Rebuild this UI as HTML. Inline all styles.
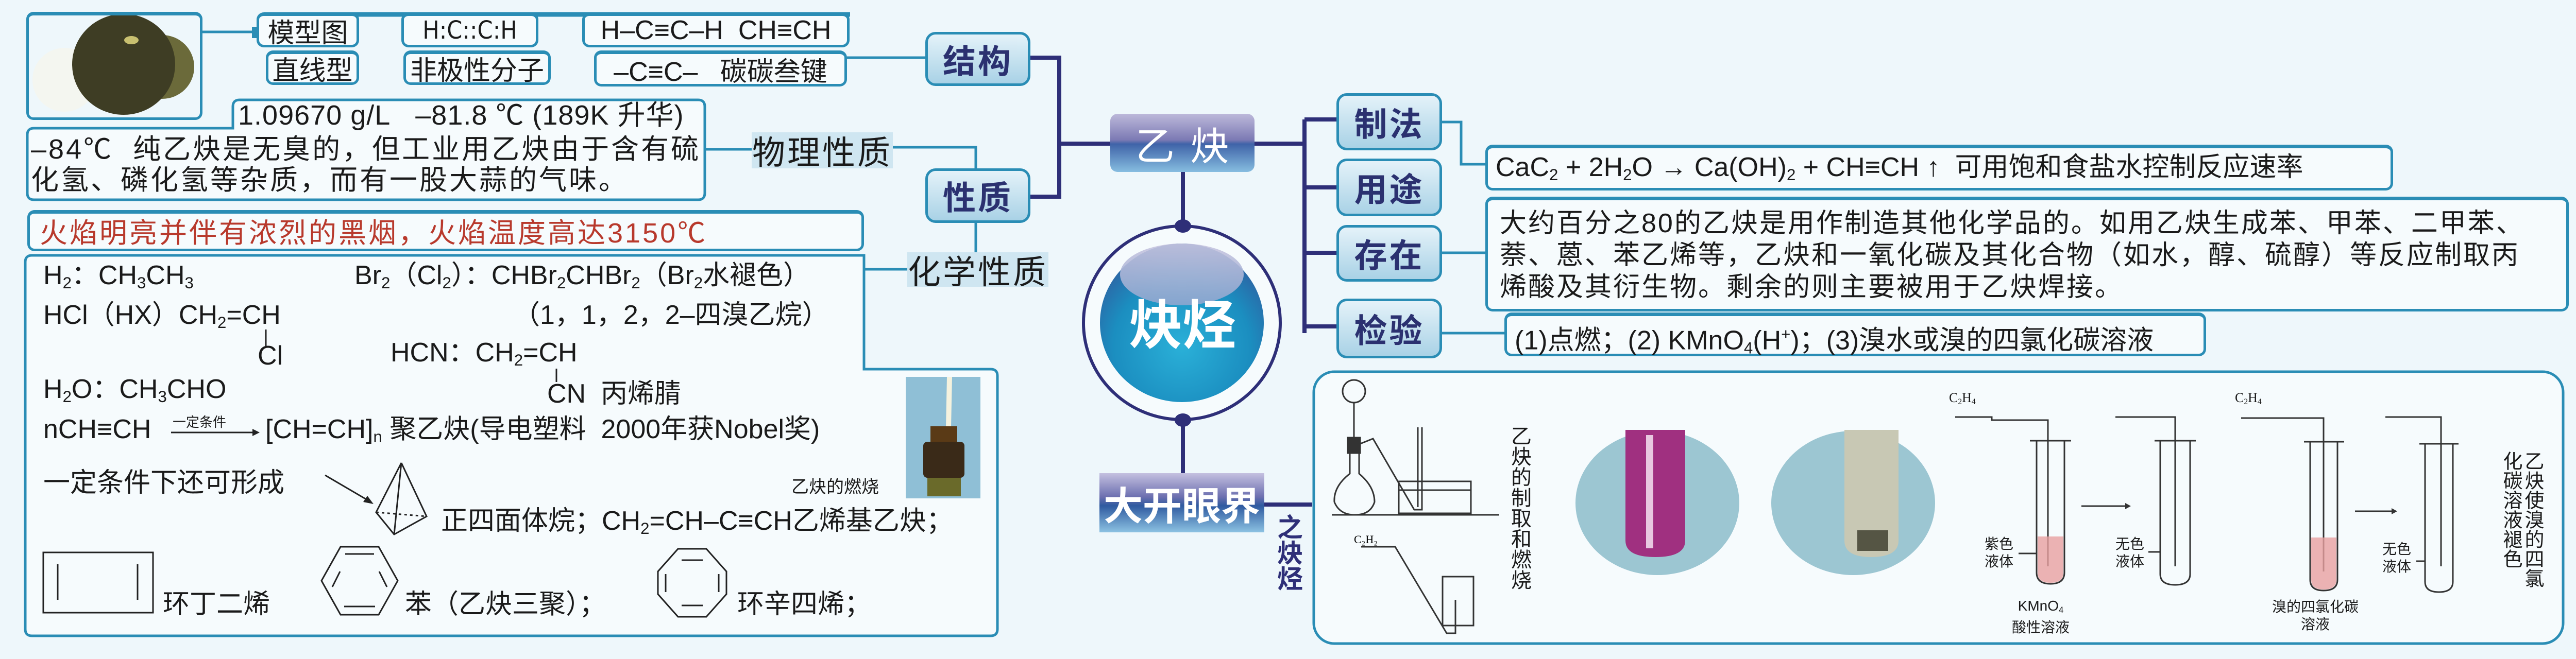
<!DOCTYPE html>
<html><head><meta charset="utf-8">
<style>
*{margin:0;padding:0;box-sizing:border-box}
body{width:5024px;height:1280px;background:#eef7fb;position:relative;overflow:hidden;font-family:"Liberation Sans","Noto Sans CJK SC",sans-serif;color:#1a1a1a}
.a{position:absolute;white-space:nowrap}
.box{position:absolute;border:5px solid #2a8db5;border-top-width:7px;border-radius:14px;background:#f6fbfd}
.cb{display:flex;align-items:center;justify-content:center;font-size:52px}
.lab{position:absolute;border:5px solid #2a8db5;border-radius:20px;background:linear-gradient(#e4f2f9,#a9d2e6);display:flex;align-items:center;justify-content:center;font-size:64px;color:#2b3170;font-weight:600;letter-spacing:4px}
.lb2{position:absolute;background:#cfe6f1;display:flex;align-items:center;justify-content:center;font-size:64px;color:#1a1a1a;letter-spacing:4px}
.t54{font-size:54px;letter-spacing:4px;line-height:60px}
.t50{font-size:52px;line-height:56px}
sub{font-size:60%;vertical-align:-0.25em}
sup{font-size:60%;vertical-align:0.6em}
.v{position:absolute;writing-mode:vertical-rl;font-size:40px;line-height:42px;white-space:nowrap}
</style></head><body>

<svg class="a" style="left:0;top:0" width="5024" height="1280">
<path d="M66,249 H452 V207 Q452,194 465,194 H1355 Q1368,194 1368,207 V375 Q1368,388 1355,388 H66 Q53,388 53,375 V262 Q53,249 66,249 Z" fill="#f6fbfd" stroke="#2a8db5" stroke-width="5"/>
<path d="M62,496 H1677 V717 H1923 Q1936,717 1936,730 V1222 Q1936,1235 1923,1235 H62 Q49,1235 49,1222 V509 Q49,496 62,496 Z" fill="#f6fbfd" stroke="#2a8db5" stroke-width="5"/>
<rect x="2550" y="722" width="2425" height="528" rx="40" fill="#f6fbfd" stroke="#2a8db5" stroke-width="5"/>
<g stroke="#2a8db5" stroke-width="5" fill="none">
<line x1="393" y1="62" x2="498" y2="62"/>
<line x1="512" y1="28" x2="1650" y2="28" stroke-width="9"/>
<line x1="1644" y1="112" x2="1796" y2="112"/>
<line x1="1368" y1="290" x2="1459" y2="290"/>
<polyline points="1733,286 1894,286 1894,327"/>
<line x1="1894" y1="433" x2="1894" y2="490"/>
<line x1="1677" y1="523" x2="1761" y2="523"/>
<polyline points="2799,237 2836,237 2836,319 2883,319"/>
<line x1="2799" y1="491" x2="2883" y2="491"/>
<line x1="2799" y1="647" x2="2920" y2="647"/>
</g>
<rect x="489" y="52" width="16" height="22" fill="#2a8db5"/>
<g stroke="#2e2f78" stroke-width="8" fill="none">
<polyline points="2000,112 2056,112 2056,382 2000,382"/>
<line x1="2056" y1="279" x2="2155" y2="279"/>
<line x1="2435" y1="279" x2="2532" y2="279"/>
<line x1="2532" y1="232" x2="2532" y2="647"/>
<line x1="2532" y1="232" x2="2594" y2="232"/>
<line x1="2532" y1="364" x2="2594" y2="364"/>
<line x1="2532" y1="491" x2="2594" y2="491"/>
<line x1="2532" y1="634" x2="2594" y2="634"/>
<line x1="2296" y1="334" x2="2296" y2="439"/>
<line x1="2296" y1="816" x2="2296" y2="919"/>
<line x1="2454" y1="980" x2="2547" y2="980"/>
</g>
<defs>
<radialGradient id="ball" cx="50%" cy="65%" r="60%"><stop offset="0" stop-color="#2ab0d8"/><stop offset="0.7" stop-color="#1b8ec0"/><stop offset="1" stop-color="#2a6aa8"/></radialGradient>
<linearGradient id="hl" x1="0" y1="0" x2="0" y2="1"><stop offset="0" stop-color="#c9c6e0"/><stop offset="1" stop-color="#8fa6cf"/></linearGradient>
</defs>
<ellipse cx="2294" cy="627" rx="191" ry="188" fill="#f6fbfd" stroke="#2e2f78" stroke-width="6"/>
<ellipse cx="2294" cy="627" rx="159" ry="154" fill="url(#ball)"/>
<ellipse cx="2294" cy="533" rx="120" ry="60" fill="url(#hl)" opacity="0.9"/>
<ellipse cx="2296" cy="439" rx="16" ry="13" fill="#2e2f78"/>
<ellipse cx="2296" cy="816" rx="16" ry="13" fill="#2e2f78"/>
<!-- molecule photo -->
<circle cx="125" cy="155" r="62" fill="#f4f6f0"/>
<circle cx="315" cy="130" r="62" fill="#6b6a3a"/>
<ellipse cx="240" cy="125" rx="100" ry="98" fill="#3e3d24"/>
<ellipse cx="255" cy="78" rx="14" ry="8" fill="#c8c070"/>
<!-- burning photo -->
<rect x="1758" y="732" width="145" height="236" fill="#8fbfd6"/>
<path d="M1838,732 L1848,732 L1846,830 L1836,830 Z" fill="#f5f2de"/>
<rect x="1806" y="828" width="52" height="30" fill="#5a3a16"/>
<rect x="1792" y="858" width="80" height="70" rx="8" fill="#3a2a18"/>
<rect x="1800" y="928" width="65" height="36" fill="#6a6a2a"/>
<g stroke="#222" stroke-width="3" fill="none">
<line x1="631" y1="923" x2="718" y2="974"/>
<polyline points="779,899 730,995 765,1038 828,1003 779,899"/>
<line x1="779" y1="899" x2="765" y2="1038"/>
<line x1="730" y1="995" x2="828" y2="1003" stroke-dasharray="5,6"/>
<rect x="84" y="1073" width="213" height="117"/>
<line x1="112" y1="1096" x2="112" y2="1165"/>
<line x1="267" y1="1096" x2="267" y2="1165"/>
<polygon points="661,1062 735,1062 772,1128 735,1194 661,1194 624,1128"/>
<line x1="670" y1="1076" x2="726" y2="1076"/>
<line x1="660" y1="1110" x2="645" y2="1140"/>
<line x1="736" y1="1110" x2="751" y2="1140"/>
<line x1="668" y1="1178" x2="728" y2="1178"/>
<polygon points="1316,1066 1371,1066 1410,1110 1410,1154 1371,1198 1316,1198 1277,1154 1277,1110"/>
<line x1="1323" y1="1088" x2="1364" y2="1088"/>
<line x1="1323" y1="1176" x2="1364" y2="1176"/>
<line x1="1292" y1="1115" x2="1292" y2="1150"/>
<line x1="1395" y1="1115" x2="1395" y2="1150"/>
<line x1="516" y1="640" x2="516" y2="672"/>
<line x1="1080" y1="716" x2="1080" y2="742"/>
<line x1="332" y1="840" x2="490" y2="840"/>
</g>
<polygon points="490,833 504,840 490,847" fill="#222"/>
<polygon points="725,979 705,975 713,963" fill="#222"/>
<g stroke="#333" stroke-width="3" fill="none">
<circle cx="2628" cy="760" r="22"/>
<line x1="2628" y1="782" x2="2628" y2="850"/>
<rect x="2616" y="850" width="24" height="30" fill="#333"/>
<path d="M2620,880 V920 Q2588,945 2590,975 Q2600,1000 2630,1000 Q2660,1000 2668,975 Q2668,945 2638,920 V880"/>
<polyline points="2640,862 2665,852 2745,990 2760,990 2760,830"/>
<rect x="2715" y="935" width="140" height="62"/>
<line x1="2715" y1="952" x2="2855" y2="952"/>
<line x1="2752" y1="830" x2="2752" y2="985"/>
<line x1="2585" y1="1000" x2="2910" y2="1000"/>
<polyline points="2642,1062 2708,1062 2808,1230 2825,1230 2825,1165"/>
<rect x="2800" y="1120" width="60" height="95"/>
</g>
<text x="2628" y="1055" font-size="22" font-family="Liberation Serif">C₂H₂</text>
<ellipse cx="3217" cy="977" rx="159" ry="140" fill="#9cc6d2"/>
<path d="M3155,835 H3271 V1050 Q3271,1082 3213,1082 Q3155,1082 3155,1050 Z" fill="#a03080"/>
<rect x="3195" y="845" width="14" height="220" fill="#e8c8e0"/>
<ellipse cx="3597" cy="977" rx="159" ry="140" fill="#9cc6d2"/>
<path d="M3580,835 H3685 V1050 Q3685,1082 3632,1082 Q3580,1082 3580,1050 Z" fill="#c8c8b4"/>
<rect x="3605" y="1030" width="60" height="40" fill="#555544"/>
<g stroke="#333" stroke-width="3" fill="none">
<polyline points="3795,810 3866,810 3866,816 3975,816 3975,1100"/>
<path d="M3953,856 V1112 Q3953,1134 3980,1134 Q4007,1134 4007,1112 V856"/>
<line x1="3940" y1="856" x2="4020" y2="856"/>
<polyline points="4106,810 4222,810 4222,1100"/>
<path d="M4193,856 V1115 Q4193,1136 4222,1136 Q4251,1136 4251,1115 V856"/>
<line x1="4182" y1="856" x2="4262" y2="856"/>
<polyline points="4350,812 4470,812 4510,812 4510,1110"/>
<path d="M4484,858 V1126 Q4484,1147 4510,1147 Q4537,1147 4537,1126 V858"/>
<line x1="4472" y1="858" x2="4550" y2="858"/>
<polyline points="4630,810 4738,810 4738,1100"/>
<path d="M4707,862 V1130 Q4707,1150 4734,1150 Q4761,1150 4761,1130 V862"/>
<line x1="4696" y1="862" x2="4772" y2="862"/>
<line x1="4040" y1="983" x2="4125" y2="983"/>
<line x1="4571" y1="993" x2="4642" y2="993"/>
<line x1="3918" y1="1075" x2="3953" y2="1075"/>
<line x1="4170" y1="1072" x2="4193" y2="1072"/>
<line x1="4690" y1="1090" x2="4707" y2="1090"/>
</g>
<path d="M3955,1042 H4005 V1112 Q4005,1132 3980,1132 Q3955,1132 3955,1112 Z" fill="#e8a0a0" opacity="0.8"/>
<path d="M4486,1044 H4535 V1126 Q4535,1145 4510,1145 Q4486,1145 4486,1126 Z" fill="#e8a0a0" opacity="0.8"/>
<polygon points="4125,977 4136,983 4125,989" fill="#333"/>
<polygon points="4642,987 4653,993 4642,999" fill="#333"/>
</svg>

<div class="box" style="left:51px;top:23px;width:342px;height:210px;background:transparent"></div>

<div class="box cb" style="left:498px;top:24px;width:199px;height:68px">模型图</div>
<div class="box cb" style="left:516px;top:98px;width:181px;height:67px">直线型</div>
<div class="box cb" style="left:779px;top:24px;width:266px;height:68px;font-family:'DejaVu Sans Condensed','DejaVu Sans',sans-serif;font-size:48px">H:C::C:H</div>
<div class="box cb" style="left:783px;top:98px;width:286px;height:67px">非极性分子</div>
<div class="box cb" style="left:1130px;top:24px;width:519px;height:68px">H–C≡C–H&nbsp; CH≡CH</div>
<div class="box cb" style="left:1153px;top:98px;width:491px;height:70px">–C≡C–&nbsp;&nbsp; 碳碳叁键</div>

<div class="lab" style="left:1796px;top:62px;width:204px;height:105px">结构</div>
<div class="lab" style="left:1796px;top:327px;width:204px;height:106px">性质</div>
<div class="lb2" style="left:1459px;top:257px;width:274px;height:70px">物理性质</div>
<div class="lb2" style="left:1761px;top:490px;width:274px;height:67px">化学性质</div>

<div class="a t54" style="left:462px;top:194px;letter-spacing:1px">1.09670 g/L&nbsp;&nbsp; –81.8 ℃ (189K 升华)</div>
<div class="a t54" style="left:60px;top:260px">–84℃&nbsp; 纯乙炔是无臭的，但工业用乙炔由于含有硫</div>
<div class="a t54" style="left:60px;top:320px">化氢、磷化氢等杂质，而有一股大蒜的气味。</div>

<div class="box" style="left:53px;top:408px;width:1624px;height:80px"></div>
<div class="a t54" style="left:77px;top:423px;color:#b8392c">火焰明亮并伴有浓烈的黑烟，火焰温度高达3150℃</div>

<div class="a t50" style="left:84px;top:507px">H<sub>2</sub>：CH<sub>3</sub>CH<sub>3</sub></div>
<div class="a t50" style="left:688px;top:507px">Br<sub>2</sub>（Cl<sub>2</sub>）：CHBr<sub>2</sub>CHBr<sub>2</sub>（Br<sub>2</sub>水褪色）</div>
<div class="a t50" style="left:84px;top:584px">HCl（HX）CH<sub>2</sub>=CH</div>
<div class="a t50" style="left:996px;top:584px">（1，1，2，2–四溴乙烷）</div>
<div class="a t50" style="left:500px;top:663px">Cl</div>
<div class="a t50" style="left:758px;top:657px">HCN：CH<sub>2</sub>=CH</div>
<div class="a t50" style="left:1062px;top:737px">CN&nbsp; 丙烯腈</div>
<div class="a t50" style="left:84px;top:728px">H<sub>2</sub>O：CH<sub>3</sub>CHO</div>
<div class="a t50" style="left:84px;top:806px">nCH≡CH</div>
<div class="a" style="left:335px;top:800px;font-size:26px">一定条件</div>
<div class="a t50" style="left:515px;top:806px">[CH=CH]<sub>n</sub> 聚乙炔(导电塑料&nbsp; 2000年获Nobel奖)</div>
<div class="a" style="left:1536px;top:918px;font-size:34px">乙炔的燃烧</div>
<div class="a t50" style="left:84px;top:910px">一定条件下还可形成</div>
<div class="a t50" style="left:856px;top:984px">正四面体烷；CH<sub>2</sub>=CH–C≡CH乙烯基乙炔；</div>
<div class="a t50" style="left:316px;top:1146px">环丁二烯</div>
<div class="a t50" style="left:786px;top:1146px">苯（乙炔三聚）；</div>
<div class="a t50" style="left:1431px;top:1146px">环辛四烯；</div>

<div class="a" style="left:2155px;top:221px;width:280px;height:113px;border-radius:14px;background:linear-gradient(#bdb9da 0%,#7c7ab4 45%,#3f63a8 52%,#86bde0 100%);display:flex;align-items:center;justify-content:center;color:#fff;font-size:76px;letter-spacing:30px;padding-left:30px">乙炔</div>
<div class="a" style="left:2180px;top:578px;width:230px;text-align:center;color:#fff;font-size:104px;font-weight:bold;line-height:110px">炔烃</div>

<div class="lab" style="left:2594px;top:181px;width:205px;height:111px">制法</div>
<div class="lab" style="left:2594px;top:308px;width:205px;height:112px">用途</div>
<div class="lab" style="left:2594px;top:437px;width:205px;height:110px">存在</div>
<div class="lab" style="left:2594px;top:580px;width:205px;height:116px">检验</div>

<div class="box" style="left:2883px;top:281px;width:1762px;height:89px"></div>
<div class="a t50" style="left:2903px;top:297px">CaC<sub>2</sub> + 2H<sub>2</sub>O → Ca(OH)<sub>2</sub> + CH≡CH ↑&nbsp; 可用饱和食盐水控制反应速率</div>

<div class="box" style="left:2883px;top:382px;width:2103px;height:223px"></div>
<div class="a" style="left:2911px;top:403px;font-size:52px;letter-spacing:3px;line-height:62px">大约百分之80的乙炔是用作制造其他化学品的。如用乙炔生成苯、甲苯、二甲苯、<br>萘、蒽、苯乙烯等，乙炔和一氧化碳及其化合物（如水，醇、硫醇）等反应制取丙<br>烯酸及其衍生物。剩余的则主要被用于乙炔焊接。</div>

<div class="box" style="left:2920px;top:607px;width:1362px;height:85px"></div>
<div class="a t50" style="left:2940px;top:622px">(1)点燃；(2) KMnO<sub>4</sub>(H<sup>+</sup>)；(3)溴水或溴的四氯化碳溶液</div>

<div class="a" style="left:2134px;top:919px;width:320px;height:115px;background:linear-gradient(#c4c0e0 0%,#6d70b0 40%,#2f5aa0 55%,#8cc2e2 100%);display:flex;align-items:center;justify-content:center;color:#fff;font-size:76px;font-weight:bold">大开眼界</div>
<div class="v" style="left:2473px;top:998px;font-size:50px;line-height:54px;color:#2e2f78;font-weight:600">之炔烃</div>

<div class="v" style="left:2928px;top:826px;font-size:40px;line-height:42px">乙炔的制取和燃烧</div>
<div class="a" style="left:3783px;top:758px;font-size:26px;font-family:'Liberation Serif',serif">C<sub>2</sub>H<sub>4</sub></div>
<div class="a" style="left:4338px;top:758px;font-size:26px;font-family:'Liberation Serif',serif">C<sub>2</sub>H<sub>4</sub></div>
<div class="a" style="left:3852px;top:1040px;font-size:28px;line-height:34px">紫色<br>液体</div>
<div class="a" style="left:4106px;top:1040px;font-size:28px;line-height:34px">无色<br>液体</div>
<div class="a" style="left:4624px;top:1050px;font-size:28px;line-height:34px">无色<br>液体</div>
<div class="a" style="left:3905px;top:1160px;font-size:28px;line-height:34px;text-align:center">KMnO<sub>4</sub><br>酸性溶液</div>
<div class="a" style="left:4410px;top:1162px;font-size:28px;line-height:34px;text-align:center">溴的四氯化碳<br>溶液</div>
<div class="v" style="left:4852px;top:876px;font-size:38px;line-height:42px">乙炔使溴的四氯<br>化碳溶液褪色</div>
</body></html>
